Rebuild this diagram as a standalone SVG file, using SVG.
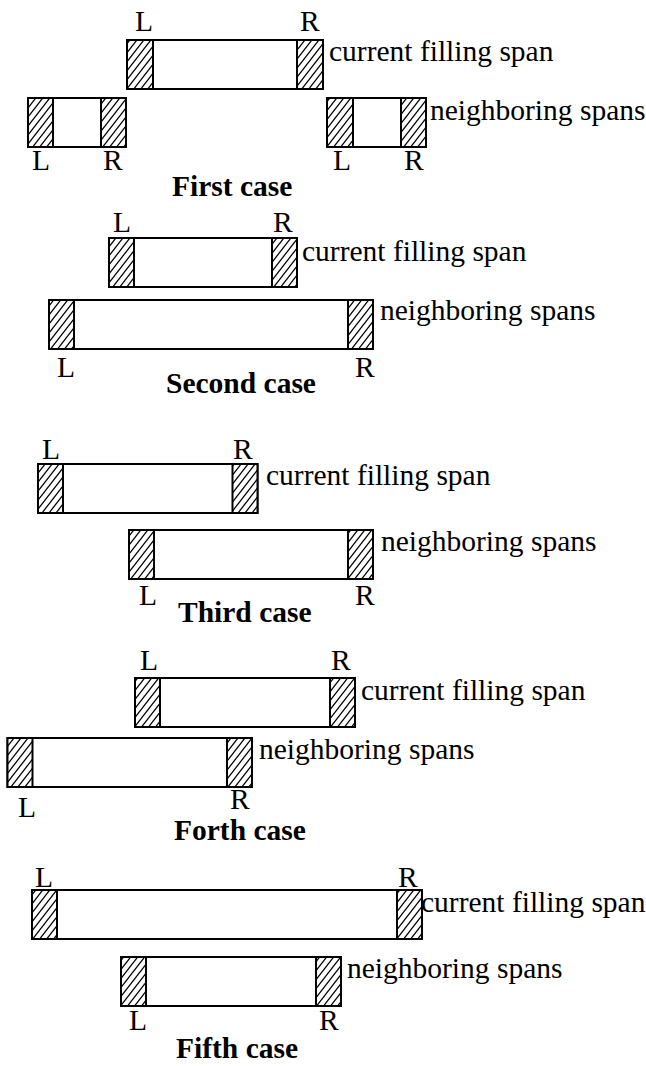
<svg xmlns="http://www.w3.org/2000/svg" width="646" height="1066" viewBox="0 0 646 1066">
  <style>
    .box { fill: #fff; stroke: #000; stroke-width: 2; }
    .end { fill: url(#hatch); stroke: #000; stroke-width: 2; }
    .t { font-family: "Liberation Serif", "Times New Roman", serif; font-size: 29.5px; fill: #000; }
    .cap { font-family: "Liberation Serif", "Times New Roman", serif; font-size: 29.5px; font-weight: bold; fill: #000; }
  </style>
  <defs>
    <!-- diagonal hatching for the L / R ends of a span -->
    <pattern id="hatch" patternUnits="userSpaceOnUse" width="7" height="9">
      <rect width="7" height="9" fill="#fff"/>
      <path d="M0,9 L7,0 M-1,1.3 L1,-1.3 M6,10.3 L8,7.7" stroke="#000" stroke-width="1.3" fill="none"/>
    </pattern>
  </defs>
  <rect width="646" height="1066" fill="#fff"/>

  <!-- First case -->
  <g id="case1-current">
    <rect class="box" x="127" y="40" width="196" height="49"/>
    <rect class="end" x="127" y="40" width="26" height="49"/>
    <rect class="end" x="297" y="40" width="26" height="49"/>
    <text class="t" x="135" y="31">L</text>
    <text class="t" x="300" y="31">R</text>
    <text class="t" x="329" y="61">current filling span</text>
  </g>
  <g id="case1-neighbor-left">
    <rect class="box" x="28" y="98" width="98" height="49"/>
    <rect class="end" x="28" y="98" width="25" height="49"/>
    <rect class="end" x="101" y="98" width="25" height="49"/>
    <text class="t" x="32" y="170">L</text>
    <text class="t" x="103" y="170">R</text>
  </g>
  <g id="case1-neighbor-right">
    <rect class="box" x="327" y="98" width="99" height="49"/>
    <rect class="end" x="327" y="98" width="26" height="49"/>
    <rect class="end" x="401" y="98" width="25" height="49"/>
    <text class="t" x="333" y="170">L</text>
    <text class="t" x="404" y="170">R</text>
    <text class="t" x="430" y="120">neighboring spans</text>
  </g>
  <text id="case1-title" class="cap" x="172" y="196">First case</text>

  <!-- Second case -->
  <g id="case2-current">
    <rect class="box" x="109" y="238" width="188" height="49"/>
    <rect class="end" x="109" y="238" width="25" height="49"/>
    <rect class="end" x="272" y="238" width="25" height="49"/>
    <text class="t" x="113" y="232">L</text>
    <text class="t" x="273" y="232">R</text>
    <text class="t" x="302" y="261">current filling span</text>
  </g>
  <g id="case2-neighbor">
    <rect class="box" x="49" y="300" width="324" height="49"/>
    <rect class="end" x="49" y="300" width="25" height="49"/>
    <rect class="end" x="348" y="300" width="25" height="49"/>
    <text class="t" x="57" y="377">L</text>
    <text class="t" x="355" y="377">R</text>
    <text class="t" x="380" y="320">neighboring spans</text>
  </g>
  <text id="case2-title" class="cap" x="166" y="393">Second case</text>

  <!-- Third case -->
  <g id="case3-current">
    <rect class="box" x="38" y="464" width="219.5" height="49"/>
    <rect class="end" x="38" y="464" width="25" height="49"/>
    <rect class="end" x="232.5" y="464" width="25" height="49"/>
    <text class="t" x="42" y="459">L</text>
    <text class="t" x="233" y="459">R</text>
    <text class="t" x="266" y="485">current filling span</text>
  </g>
  <g id="case3-neighbor">
    <rect class="box" x="129" y="530" width="244" height="49"/>
    <rect class="end" x="129" y="530" width="25" height="49"/>
    <rect class="end" x="348" y="530" width="25" height="49"/>
    <text class="t" x="139" y="605">L</text>
    <text class="t" x="355" y="605">R</text>
    <text class="t" x="381" y="551">neighboring spans</text>
  </g>
  <text id="case3-title" class="cap" x="178" y="622">Third case</text>

  <!-- Forth case -->
  <g id="case4-current">
    <rect class="box" x="135" y="678" width="220" height="49"/>
    <rect class="end" x="135" y="678" width="25" height="49"/>
    <rect class="end" x="330" y="678" width="25" height="49"/>
    <text class="t" x="140" y="670">L</text>
    <text class="t" x="331" y="670">R</text>
    <text class="t" x="361" y="700">current filling span</text>
  </g>
  <g id="case4-neighbor">
    <rect class="box" x="7.5" y="738" width="244.5" height="49"/>
    <rect class="end" x="7.5" y="738" width="25" height="49"/>
    <rect class="end" x="227" y="738" width="25" height="49"/>
    <text class="t" x="18" y="817">L</text>
    <text class="t" x="230" y="809">R</text>
    <text class="t" x="259" y="759">neighboring spans</text>
  </g>
  <text id="case4-title" class="cap" x="174" y="840">Forth case</text>

  <!-- Fifth case -->
  <g id="case5-current">
    <rect class="box" x="32" y="890" width="390" height="49"/>
    <rect class="end" x="32" y="890" width="25" height="49"/>
    <rect class="end" x="397" y="890" width="25" height="49"/>
    <text class="t" x="35" y="887">L</text>
    <text class="t" x="398" y="887">R</text>
    <text class="t" x="421" y="912">current filling span</text>
  </g>
  <g id="case5-neighbor">
    <rect class="box" x="121" y="957" width="220" height="49"/>
    <rect class="end" x="121" y="957" width="25" height="49"/>
    <rect class="end" x="316" y="957" width="25" height="49"/>
    <text class="t" x="129" y="1030">L</text>
    <text class="t" x="319" y="1030">R</text>
    <text class="t" x="347" y="978">neighboring spans</text>
  </g>
  <text id="case5-title" class="cap" x="176" y="1058">Fifth case</text>
</svg>
